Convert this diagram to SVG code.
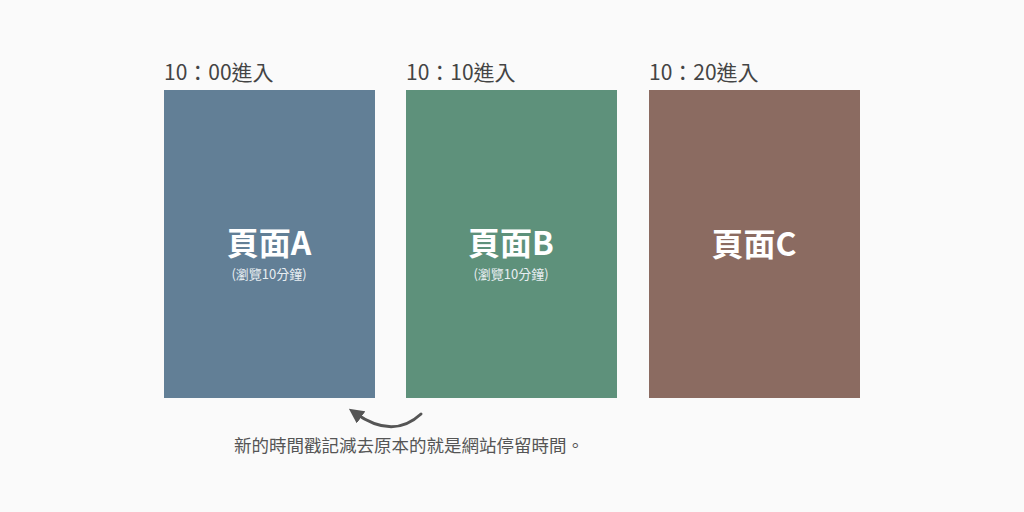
<svg xmlns="http://www.w3.org/2000/svg" width="1024" height="512" viewBox="0 0 1024 512">
<style>
.bg{fill:#fafafa}
.time{font-family:"Noto Sans CJK TC","Noto Sans",sans-serif;font-size:21px;fill:#444}
.title{font-family:"Noto Sans CJK TC","Noto Sans",sans-serif;font-size:32px;font-weight:bold;fill:#fff;text-anchor:middle}
.sub{font-family:"Noto Sans CJK TC","Noto Sans",sans-serif;font-size:13px;fill:#e8eef2;text-anchor:middle}
.cap{font-family:"Noto Sans CJK TC","Noto Sans",sans-serif;font-size:17.5px;fill:#555}
.conn{fill:none;stroke:#555;stroke-width:3;stroke-linecap:round}
</style>
<defs>
<marker id="ah" viewBox="0 0 10 10" refX="5" refY="5" markerWidth="5" markerHeight="5" orient="auto-start-reverse" markerUnits="strokeWidth">
<path d="M0,0 L10,5 L0,10 z" fill="#555"/>
</marker>
</defs>
<rect class="bg" x="0" y="0" width="1024" height="512"/>
<g id="pageA">
<text class="time" x="164" y="80">10：00進入</text>
<rect x="164" y="90" width="211" height="308" fill="#627f96"/>
<text class="title" x="269" y="255">頁面A</text>
<text class="sub" x="269" y="279">(瀏覽10分鐘)</text>
</g>
<g id="pageB">
<text class="time" x="406" y="80">10：10進入</text>
<rect x="406" y="90" width="211" height="308" fill="#5e917b"/>
<text class="title" x="511" y="255">頁面B</text>
<text class="sub" x="511" y="279">(瀏覽10分鐘)</text>
</g>
<g id="pageC">
<text class="time" x="649" y="80">10：20進入</text>
<rect x="649" y="90" width="211" height="308" fill="#8b6b61"/>
<text class="title" x="754" y="256">頁面C</text>
</g>
<g id="connectors">
<path class="conn" d="M421,414 Q393,440 355,413" marker-end="url(#ah)"/>
</g>
<g id="caption">
<text class="cap" x="234" y="452">新的時間戳記減去原本的就是網站停留時間。</text>
</g>
</svg>
